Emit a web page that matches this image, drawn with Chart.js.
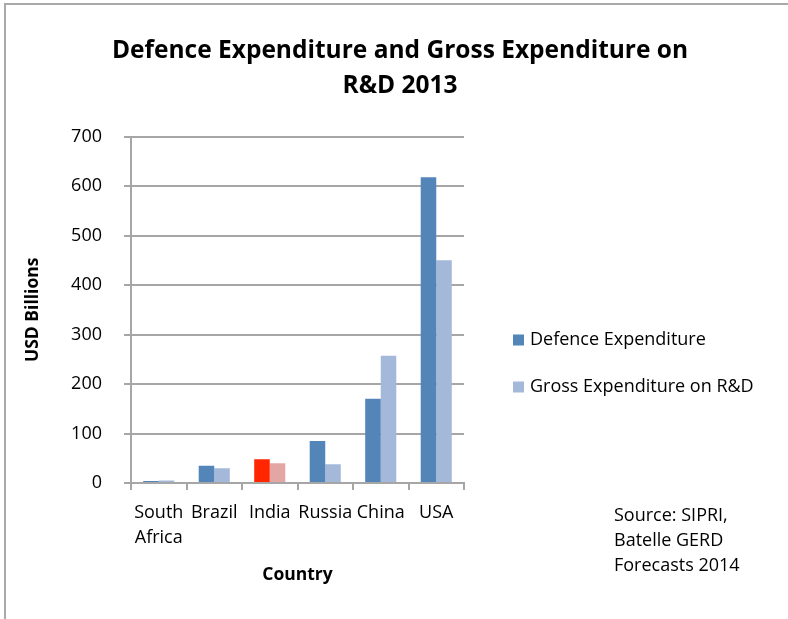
<!DOCTYPE html>
<html>
<head>
<meta charset="utf-8">
<script src="https://cdn.jsdelivr.net/npm/chart.js@4/dist/chart.umd.min.js"></script>
<style>
  html, body { margin: 0; padding: 0; background: #fff; }
  #wrap { position: relative; width: 788px; height: 619px; overflow: hidden; }
  #frame { position: absolute; left: 4px; top: 3px; width: 900px; height: 800px; border: 2px solid #a9a9a9; box-sizing: border-box; }
  canvas { position: absolute; left: 0; top: 0; }
</style>
</head>
<body>
<div id="wrap">
  <div id="frame"></div>
  <canvas id="c" width="788" height="619"></canvas>
</div>
<script>
const titleLines = ["Defence Expenditure and Gross Expenditure on", "R&D 2013"];
const categories = [["South", "Africa"], "Brazil", "India", "Russia", "China", "USA"];
const seriesNames = ["Defence Expenditure", "Gross Expenditure on R&D"];
const defence = [4, 35, 48, 85, 170, 618];
const gerd = [5, 30, 40, 38, 257, 450];
const yTicks = [0, 100, 200, 300, 400, 500, 600, 700];
const yTitle = "USD Billions";
const xTitle = "Country";
const sourceLines = ["Source: SIPRI,", "Batelle GERD", "Forecasts 2014"];

const FONT = "'Open Sans', Lato, sans-serif";
const defColor = "#5485b9";
const gerdColor = "#a4b8da";
const defHighlight = "#ff2600";
const gerdHighlight = "#e4a6a3";
const highlightIndex = 2;

const defColors = defence.map((v, i) => i === highlightIndex ? defHighlight : defColor);
const gerdColors = gerd.map((v, i) => i === highlightIndex ? gerdHighlight : gerdColor);

const extras = {
  id: "extras",
  afterDraw(chart) {
    const ctx = chart.ctx;
    ctx.save();
    ctx.font = "18px " + FONT;
    ctx.fillStyle = "#000";
    ctx.textBaseline = "middle";
    ctx.textAlign = "left";
    const items = [[seriesNames[0], defColor, 340], [seriesNames[1], gerdColor, 387]];
    items.forEach(([t, c, y]) => {
      ctx.fillStyle = c;
      ctx.fillRect(513, y - 5.5, 11, 11);
      ctx.fillStyle = "#000";
      ctx.fillText(t, 530, y);
    });
    sourceLines.forEach((t, i) => ctx.fillText(t, 614, 516 + i * 25));
    ctx.restore();
  }
};

new Chart(document.getElementById("c"), {
  type: "bar",
  data: {
    labels: categories,
    datasets: [
      { label: seriesNames[0], data: defence, backgroundColor: defColors, categoryPercentage: 0.56, barPercentage: 1.0 },
      { label: seriesNames[1], data: gerd, backgroundColor: gerdColors, categoryPercentage: 0.56, barPercentage: 1.0 }
    ]
  },
  options: {
    responsive: false,
    animation: false,
    devicePixelRatio: 1,
    layout: { padding: { left: 12, right: 0, top: 0, bottom: 33 } },
    plugins: {
      legend: { display: false },
      tooltip: { enabled: false },
      title: {
        display: true,
        text: titleLines,
        color: "#000",
        font: { family: FONT, size: 24.5, weight: "bold", lineHeight: 1.42 },
        padding: { top: 34, bottom: 33 }
      }
    },
    scales: {
      x: {
        grid: { drawOnChartArea: false, drawTicks: true, tickLength: 7, offset: true, color: "#a6a6a6", lineWidth: 2 },
        border: { color: "#a6a6a6", width: 2 },
        ticks: { color: "#000", font: { family: FONT, size: 18, lineHeight: 1.39 }, padding: 10, maxRotation: 0, autoSkip: false },
        title: { display: true, text: xTitle, color: "#000", font: { family: FONT, size: 17.5, weight: "bold" }, padding: { top: 0, bottom: 0 } },
        afterFit(scale) { scale.height = 619 - 483 - 33; }
      },
      y: {
        min: 0, max: 700,
        afterBuildTicks(scale) { scale.ticks = yTicks.map(v => ({ value: v })); },
        grid: { drawTicks: true, tickLength: 7, color: "#a6a6a6", lineWidth: 2 },
        border: { color: "#a6a6a6", width: 2 },
        ticks: { color: "#000", font: { family: FONT, size: 18 }, padding: 22 },
        title: { display: true, text: yTitle, color: "#000", font: { family: FONT, size: 17.5, weight: "bold" }, padding: { top: 10.5, bottom: 0 } },
        afterFit(scale) { scale.width = 131 - 12; }
      },
      spacer: {
        type: "linear",
        position: "right",
        display: true,
        grid: { display: false, drawTicks: false },
        border: { display: false },
        ticks: { display: false },
        afterFit(scale) { scale.width = 788 - 464; }
      }
    }
  },
  plugins: [extras]
});
</script>
</body>
</html>
